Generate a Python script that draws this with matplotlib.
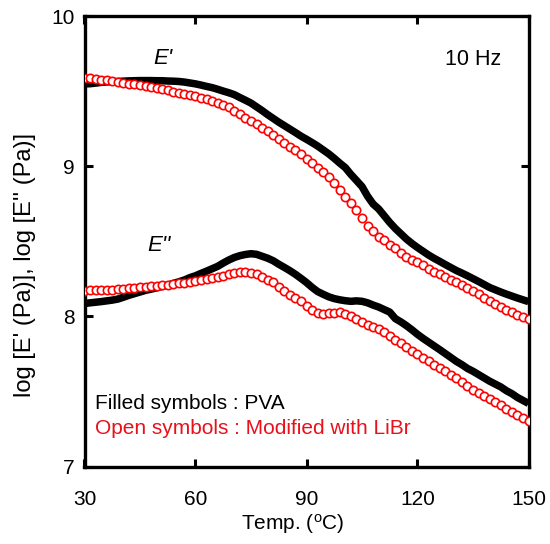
import matplotlib
matplotlib.use("Agg")
import matplotlib.pyplot as plt

plt.rcParams['font.family'] = ['Liberation Sans', 'DejaVu Sans']

temp = [30, 31.5, 33, 34.5, 36, 37.5, 39, 40.5, 42, 43.5, 45, 46.5, 48, 49.5, 51, 52.5,
        54, 55.5, 57, 58.5, 60, 61.5, 63, 64.5, 66, 67.5, 69, 70.5, 72, 73.5, 75, 76.5,
        78, 79.5, 81, 82.5, 84, 85.5, 87, 88.5, 90, 91.5, 93, 94.5, 96, 97.5, 99, 100.5,
        102, 103.5, 105, 106.5, 108, 109.5, 111, 112.5, 114, 115.5, 117, 118.5, 120, 121.5,
        123, 124.5, 126, 127.5, 129, 130.5, 132, 133.5, 135, 136.5, 138, 139.5, 141, 142.5,
        144, 145.5, 147, 148.5, 150]

pva_storage = [9.548, 9.549, 9.553, 9.558, 9.561, 9.563, 9.564, 9.566, 9.568, 9.569, 9.570,
               9.570, 9.570, 9.569, 9.569, 9.567, 9.566, 9.564, 9.560, 9.554, 9.548, 9.540,
               9.531, 9.523, 9.512, 9.500, 9.489, 9.476, 9.457, 9.439, 9.420, 9.395, 9.370,
               9.343, 9.318, 9.293, 9.270, 9.247, 9.224, 9.200, 9.179, 9.157, 9.134, 9.108,
               9.082, 9.052, 9.020, 8.990, 8.945, 8.905, 8.864, 8.800, 8.748, 8.715, 8.670,
               8.625, 8.585, 8.550, 8.515, 8.485, 8.458, 8.433, 8.408, 8.386, 8.366, 8.345,
               8.325, 8.305, 8.288, 8.270, 8.251, 8.232, 8.212, 8.192, 8.177, 8.162, 8.148,
               8.135, 8.122, 8.110, 8.098]

libr_storage = [9.590, 9.587, 9.582, 9.577, 9.571, 9.565, 9.561, 9.556, 9.550, 9.544, 9.538,
                9.532, 9.526, 9.519, 9.512, 9.505, 9.497, 9.490, 9.482, 9.473, 9.465, 9.455,
                9.445, 9.435, 9.422, 9.408, 9.392, 9.369, 9.350, 9.324, 9.300, 9.278, 9.255,
                9.233, 9.207, 9.180, 9.155, 9.130, 9.105, 9.078, 9.050, 9.021, 8.990, 8.958,
                8.926, 8.885, 8.840, 8.797, 8.755, 8.705, 8.655, 8.600, 8.565, 8.530, 8.505,
                8.478, 8.452, 8.422, 8.398, 8.378, 8.360, 8.339, 8.318, 8.298, 8.281, 8.263,
                8.245, 8.228, 8.210, 8.186, 8.167, 8.146, 8.120, 8.102, 8.083, 8.062, 8.043,
                8.030, 8.011, 7.997, 7.985]

pva_loss = [8.085, 8.090, 8.094, 8.098, 8.103, 8.108, 8.115, 8.127, 8.140, 8.151, 8.162,
            8.173, 8.181, 8.190, 8.199, 8.208, 8.219, 8.230, 8.242, 8.258, 8.270, 8.286,
            8.301, 8.317, 8.333, 8.355, 8.375, 8.392, 8.404, 8.412, 8.417, 8.413, 8.400,
            8.387, 8.370, 8.347, 8.326, 8.304, 8.280, 8.253, 8.225, 8.193, 8.165, 8.147,
            8.130, 8.118, 8.110, 8.104, 8.100, 8.103, 8.100, 8.090, 8.075, 8.062, 8.045,
            8.028, 7.985, 7.963, 7.938, 7.910, 7.880, 7.853, 7.828, 7.803, 7.778, 7.752,
            7.726, 7.700, 7.678, 7.653, 7.634, 7.612, 7.590, 7.568, 7.549, 7.530, 7.505,
            7.485, 7.460, 7.440, 7.420]

libr_loss = [8.172, 8.173, 8.174, 8.175, 8.178, 8.176, 8.179, 8.182, 8.186, 8.190, 8.193,
             8.197, 8.200, 8.204, 8.208, 8.211, 8.216, 8.220, 8.225, 8.230, 8.237, 8.242,
             8.247, 8.252, 8.260, 8.270, 8.281, 8.290, 8.295, 8.294, 8.290, 8.282, 8.265,
             8.245, 8.228, 8.195, 8.167, 8.140, 8.120, 8.100, 8.070, 8.042, 8.025, 8.017,
             8.020, 8.024, 8.027, 8.016, 8.002, 7.980, 7.960, 7.945, 7.930, 7.918, 7.893,
             7.870, 7.845, 7.820, 7.797, 7.772, 7.750, 7.725, 7.700, 7.675, 7.655, 7.633,
             7.610, 7.587, 7.566, 7.533, 7.512, 7.492, 7.470, 7.452, 7.430, 7.410, 7.385,
             7.365, 7.340, 7.320, 7.300]

xticks = [30, 60, 90, 120, 150]
yticks = [7, 8, 9, 10]

W, H = 550, 544
fig = plt.figure(figsize=(W / 100, H / 100), dpi=100)
ax = fig.add_axes([84.5 / W, 1 - 466.5 / H, (528.5 - 84.5) / W, (466.5 - 16) / H])

for s in (pva_storage, pva_loss):
    ax.plot(temp, s, color='black', lw=5.4, solid_capstyle='butt', solid_joinstyle='round',
            zorder=2)
for s in (libr_storage, libr_loss):
    ax.plot(temp, s, ls='none', marker='o', ms=6.0, mfc='white', mec='#ff0000', mew=1.2,
            zorder=3)

ax.set_xlim(30, 150)
ax.set_ylim(7, 10)
ax.set_xticks(xticks)
ax.set_yticks(yticks)
ax.tick_params(direction='in', length=6, width=2.2, top=True, right=True,
               labelsize=15, colors='black')
ax.tick_params(axis='x', pad=17)
ax.tick_params(axis='y', pad=7)
for sp in ax.spines.values():
    sp.set_linewidth(2.4)

fig.text(293 / W, 1 - 524 / H, 'Temp. ($\\mathregular{^{o}}$C)', fontsize=15,
         ha='center', va='center')
fig.text(25 / W, 1 - 265 / H, "log [E' (Pa)], log [E'' (Pa)]", fontsize=17,
         rotation=90, ha='center', va='center')

ax.text(51.2, 9.72, "E'", fontsize=16, style='italic', ha='center', va='center')
ax.text(50.0, 8.47, "E''", fontsize=16, style='italic', ha='center', va='center')
ax.text(135, 9.707, "10 Hz", fontsize=15.5, ha='center', va='center')
ax.text(32.8, 7.42, "Filled symbols : PVA", fontsize=15, ha='left', va='center', color='black')
ax.text(32.8, 7.255, "Open symbols : Modified with LiBr", fontsize=15, ha='left', va='center',
        color='#e8101a')

fig.savefig('out.png', dpi=100)
